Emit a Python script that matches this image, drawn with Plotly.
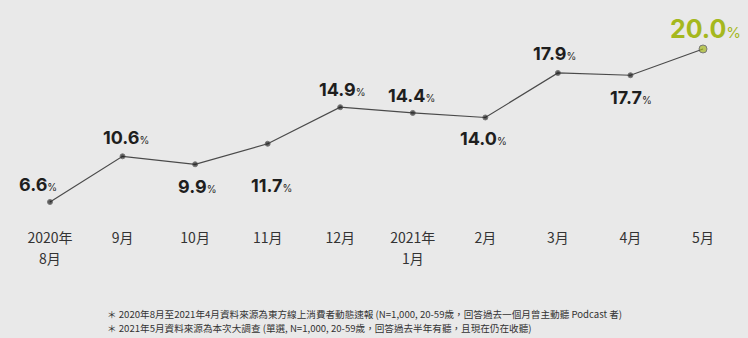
import plotly.graph_objects as go

months = ["2020年", "9月", "10月", "11月", "12月", "2021年", "2月", "3月", "4月", "5月"]
month_second_line = {0: "8月", 5: "1月"}
values = [6.6, 10.6, 9.9, 11.7, 14.9, 14.4, 14.0, 17.9, 17.7, 20.0]
notes = [
    "＊ 2020年8月至2021年4月資料來源為東方線上消費者動態速報 (N=1,000, 20-59歲，回答過去一個月曾主動聽 Podcast 者)",
    "＊ 2021年5月資料來源為本次大調查 (單選, N=1,000, 20-59歲，回答過去半年有聽，且現在仍在收聽)",
]
# label offsets (pixels) relative to each point
label_dx = [-12, 3, 2, 4, 2, -1, -2, -3, 1, 2]
label_dy = [17, 19, -22, -42, 18, 17, -21, 19, -22, 20]

GREEN = "#a5b81e"
DARK = "#1e1e1e"
xs = list(range(len(values)))

fig = go.Figure()
fig.add_trace(go.Scatter(
    x=xs, y=values, mode="lines+markers",
    line=dict(color="#4a4a4a", width=1.2),
    marker=dict(size=[5] * (len(values) - 1) + [8],
                color=[DARK] * (len(values) - 1) + [GREEN]),
    hoverinfo="skip", showlegend=False,
))

for i, v in enumerate(values):
    last = i == len(values) - 1
    size = 25 if last else 18
    col = GREEN if last else DARK
    txt = f"<b>{v:.1f}</b><span style='font-size:{int(size*0.6)}px'>%</span>"
    fig.add_annotation(x=i, y=v, text=txt, showarrow=False,
                       xshift=label_dx[i], yshift=label_dy[i],
                       font=dict(family="Inter, Noto Sans, sans-serif", size=size, color=col))

for i, t in month_second_line.items():
    fig.add_annotation(x=i, y=-0.1316, xref="x", yref="paper", text=t, showarrow=False,
                       yanchor="middle",
                       font=dict(family="Noto Sans CJK TC, sans-serif", size=14, color="#333333"))

for k, n in enumerate(notes):
    fig.add_annotation(x=0.1404, y=-0.3772 - k * 0.0614, xref="paper", yref="paper",
                       xanchor="left", yanchor="middle",
                       text=n, showarrow=False,
                       font=dict(family="Noto Sans CJK TC, sans-serif", size=9.6, color="#333333"))

fig.update_layout(
    width=748, height=338,
    margin=dict(l=0, r=0, t=0, b=110),
    paper_bgcolor="#e9e9e9", plot_bgcolor="#e9e9e9",
    xaxis=dict(range=[-0.689, 9.62], tickvals=xs, ticktext=months, showgrid=False,
               zeroline=False, showline=False, ticks="", fixedrange=True,
               tickfont=dict(family="Noto Sans CJK TC, sans-serif", size=14, color="#333333")),
    yaxis=dict(range=[4.32, 24.29], visible=False, fixedrange=True),
)
fig.write_html("out.html")
